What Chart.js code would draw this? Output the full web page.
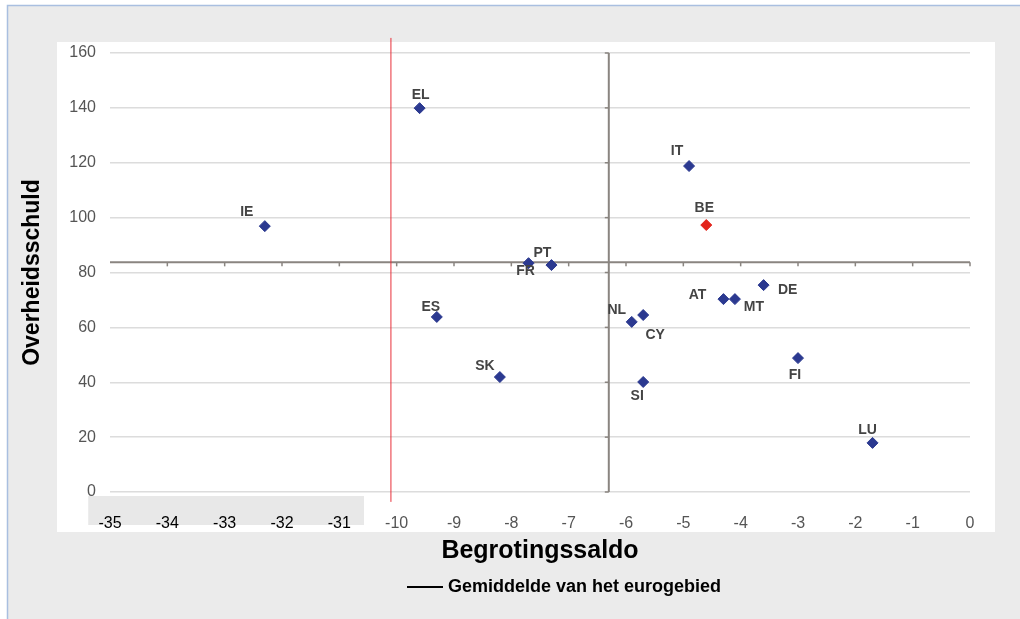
<!DOCTYPE html>
<html>
<head>
<meta charset="utf-8">
<script src="https://cdn.jsdelivr.net/npm/chart.js@4.4.1/dist/chart.umd.min.js"></script>
<style>
  html, body { margin: 0; padding: 0; background: #fff; }
  #wrap { width: 1020px; height: 619px; }
</style>
</head>
<body>
<div id="wrap"><canvas id="chart" width="1020" height="619"></canvas></div>
<script>
// country data (2010): budget balance and government debt, % of GDP
const countries = ["EL", "IE", "IT", "BE", "PT", "FR", "ES", "SK", "NL", "CY", "SI", "AT", "MT", "DE", "FI", "LU"];
const saldo = [-9.6, -32.3, -4.9, -4.6, -7.3, -7.7, -9.3, -8.2, -5.9, -5.7, -5.7, -4.3, -4.1, -3.6, -3.0, -1.7];
const schuld = [139.9, 96.9, 118.8, 97.3, 82.7, 83.4, 63.8, 41.9, 62.0, 64.5, 40.1, 70.3, 70.3, 75.4, 48.8, 17.9];
const highlight = "BE";

// euro area average
const avgSaldo = -6.3;
const avgSchuld = 83.7;

// x axis is broken: -35..-31 are drawn in the slot of -15..-11
const xTicks = [-35, -34, -33, -32, -31, -10, -9, -8, -7, -6, -5, -4, -3, -2, -1, 0];
const yTicks = [0, 20, 40, 60, 80, 100, 120, 140, 160];
const breakShift = 20;
const breakLine = -10.1;

// where each label sits relative to its point (px)
const labelOffset = {
  EL: [1, -13], IE: [-18, -14], IT: [-12, -15], BE: [-2, -17], PT: [-9, -12],
  FR: [-3, 8], ES: [-6, -10], SK: [-15, -11], NL: [-15, -12], CY: [12, 20],
  SI: [-6, 14], AT: [-26, -4], MT: [19, 8], DE: [24, 5], FI: [-3, 17], LU: [-5, -13]
};

function toPlot(v) {
  return v < -30 ? v + breakShift : v;
}

let blue = [], red = [];
for (let i = 0; i < countries.length; i++) {
  let p = { x: toPlot(saldo[i]), y: schuld[i], label: countries[i] };
  if (countries[i] === highlight) red.push(p);
  else blue.push(p);
}

const font = "'Liberation Sans', Arial, sans-serif";

const backgroundPlugin = {
  id: "background",
  beforeDraw(chart) {
    const { ctx, chartArea: a, width, height } = chart;
    const x = chart.scales.x;
    ctx.save();
    ctx.fillStyle = "#ffffff";
    ctx.fillRect(0, 0, width, height);
    ctx.fillStyle = "#ebebeb";
    ctx.fillRect(7, 5, width - 7, height - 5);
    ctx.strokeStyle = "#a9bfe0";
    ctx.lineWidth = 1.5;
    ctx.beginPath();
    ctx.moveTo(7.5, height);
    ctx.lineTo(7.5, 5.5);
    ctx.lineTo(width, 5.5);
    ctx.stroke();
    // white plot panel
    ctx.fillStyle = "#ffffff";
    ctx.fillRect(a.left - 53, a.top - 11, a.right - a.left + 78, a.bottom - a.top + 51);
    // grey patch behind the broken-axis labels
    let l = x.getPixelForValue(-15.38), r = x.getPixelForValue(-10.57);
    ctx.fillStyle = "#e8e8e8";
    ctx.fillRect(l, a.bottom + 4, r - l, 29);
    ctx.restore();
  }
};

const overlayPlugin = {
  id: "overlay",
  afterDatasetsDraw(chart) {
    const { ctx, chartArea: a } = chart;
    const x = chart.scales.x, y = chart.scales.y;
    ctx.save();
    // small tick marks on the average lines
    ctx.strokeStyle = "#8a8580";
    ctx.lineWidth = 1.5;
    let hy = y.getPixelForValue(avgSchuld);
    for (let v = -14; v <= 0; v++) {
      let px = x.getPixelForValue(v);
      ctx.beginPath();
      ctx.moveTo(px, hy);
      ctx.lineTo(px, hy + 4);
      ctx.stroke();
    }
    let vx = x.getPixelForValue(avgSaldo);
    yTicks.forEach((v) => {
      let py = y.getPixelForValue(v);
      ctx.beginPath();
      ctx.moveTo(vx, py);
      ctx.lineTo(vx - 4, py);
      ctx.stroke();
    });
    // country labels
    ctx.font = "bold 14px " + font;
    ctx.fillStyle = "#444";
    ctx.textAlign = "center";
    ctx.textBaseline = "middle";
    chart.data.datasets.forEach((ds, di) => {
      if (!ds.pointLabels) return;
      chart.getDatasetMeta(di).data.forEach((pt, i) => {
        let name = ds.data[i].label;
        let off = labelOffset[name] || [0, -12];
        ctx.fillText(name, pt.x + off[0], pt.y + off[1]);
      });
    });
    ctx.restore();
  },
  afterDraw(chart) {
    const { ctx, chartArea: a } = chart;
    // legend
    let cx = (a.left + a.right) / 2;
    let ly = a.bottom + 95;
    ctx.save();
    ctx.strokeStyle = "#000";
    ctx.lineWidth = 2;
    ctx.beginPath();
    ctx.moveTo(cx - 133, ly);
    ctx.lineTo(cx - 97, ly);
    ctx.stroke();
    ctx.font = "bold 18px " + font;
    ctx.fillStyle = "#000";
    ctx.textAlign = "left";
    ctx.textBaseline = "middle";
    ctx.fillText("Gemiddelde van het eurogebied", cx - 92, ly);
    ctx.restore();
  }
};

let ctx = document.getElementById("chart").getContext("2d");
let chart = new Chart(ctx, {
  type: "scatter",
  data: {
    datasets: [
      {
        label: "Landen",
        data: blue,
        pointLabels: true,
        pointStyle: "rectRot",
        pointRadius: 5.5,
        backgroundColor: "#2b3990",
        borderColor: "#2b3990",
        order: 0,
      },
      {
        label: highlight,
        data: red,
        pointLabels: true,
        pointStyle: "rectRot",
        pointRadius: 5.5,
        backgroundColor: "#e3241b",
        borderColor: "#e3241b",
        order: 0,
      },
      {
        type: "line",
        label: "Gemiddelde van het eurogebied",
        data: [{ x: avgSaldo, y: 0 }, { x: avgSaldo, y: 160 }],
        borderColor: "#8a8580",
        borderWidth: 2,
        pointRadius: 0,
        order: 2,
      },
      {
        type: "line",
        label: "Gemiddelde schuld",
        data: [{ x: -15, y: avgSchuld }, { x: 0, y: avgSchuld }],
        borderColor: "#8a8580",
        borderWidth: 2,
        pointRadius: 0,
        order: 2,
      },
      {
        type: "line",
        label: "breuk",
        data: [{ x: breakLine, y: -3.6 }, { x: breakLine, y: 165.5 }],
        borderColor: "#e8303a",
        borderWidth: 1,
        pointRadius: 0,
        clip: false,
        order: 1,
      },
    ],
  },
  options: {
    responsive: false,
    animation: false,
    layout: { padding: { top: 53, right: 50, left: 0, bottom: 0 } },
    plugins: {
      legend: { display: false },
      tooltip: { enabled: false },
    },
    scales: {
      x: {
        type: "linear",
        min: -15,
        max: 0,
        afterFit: (scale) => { scale.height = 127; },
        afterBuildTicks: (scale) => {
          scale.ticks = xTicks.map((v) => ({ value: toPlot(v) }));
        },
        grid: { display: false },
        border: { display: false },
        ticks: {
          padding: 14,
          font: { family: font, size: 16 },
          color: (c) => (c.tick && c.tick.value < -10.5 ? "#000" : "#555"),
          callback: (v) => (v < -10.5 ? v - breakShift : v),
        },
        title: {
          display: true,
          text: "Begrotingssaldo",
          color: "#000",
          font: { family: font, size: 25, weight: "bold" },
          padding: { top: 0, bottom: 53 },
        },
      },
      y: {
        min: 0,
        max: 160,
        afterFit: (scale) => { scale.width = 110; },
        afterBuildTicks: (scale) => {
          scale.ticks = yTicks.map((v) => ({ value: v }));
        },
        grid: { color: "#dcdcdc", lineWidth: 1.5, drawTicks: false },
        border: { display: false },
        ticks: {
          padding: 14,
          font: { family: font, size: 16 },
          color: "#555",
        },
        title: {
          display: true,
          text: "Overheidsschuld",
          color: "#000",
          font: { family: font, size: 23, weight: "bold" },
          padding: { top: 19, bottom: 0 },
        },
      },
    },
  },
  plugins: [backgroundPlugin, overlayPlugin],
});
</script>
</body>
</html>
